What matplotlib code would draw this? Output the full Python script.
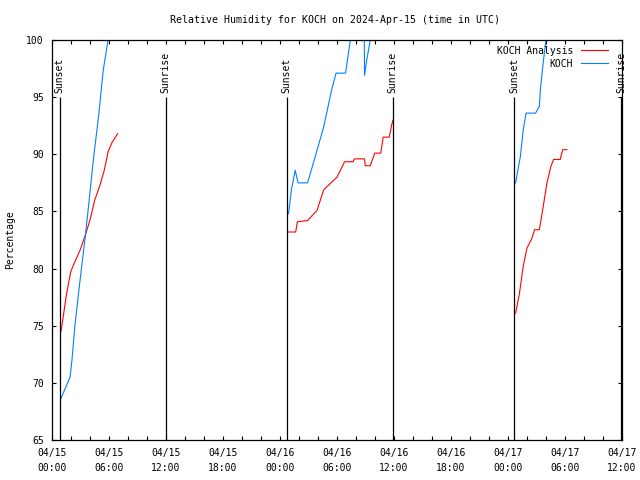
import numpy as np
import pandas as pd
import matplotlib
matplotlib.use("Agg")
import matplotlib.pyplot as plt
import matplotlib.dates as mdates

plt.rcParams['font.family'] = 'DejaVu Sans Mono'
plt.rcParams['font.size'] = 7

# KOCH analysis (red), one list per night
ana_t1 = ["04-15 00:57", "04-15 01:12", "04-15 01:32", "04-15 01:58", "04-15 02:15", "04-15 02:57",
          "04-15 03:30", "04-15 04:00", "04-15 04:30", "04-15 05:03", "04-15 05:30", "04-15 05:54",
          "04-15 06:18", "04-15 06:54"]
ana_v1 = [74.5, 75.9, 77.8, 79.7, 80.3, 81.6, 82.9, 84.25, 86.0, 87.3, 88.6, 90.2, 91.0, 91.8]

ana_t2 = ["04-16 00:54", "04-16 01:39", "04-16 01:50", "04-16 02:54", "04-16 03:54", "04-16 04:36",
          "04-16 06:00", "04-16 06:48", "04-16 07:42", "04-16 07:50", "04-16 08:54", "04-16 08:58",
          "04-16 09:30", "04-16 09:58", "04-16 10:36", "04-16 10:52", "04-16 11:30", "04-16 11:46",
          "04-16 11:54"]
ana_v2 = [83.2, 83.2, 84.1, 84.2, 85.1, 86.9, 88.0, 89.35, 89.35, 89.6, 89.6, 89.0, 89.0, 90.1,
          90.1, 91.5, 91.5, 92.6, 93.0]

ana_t3 = ["04-17 00:48", "04-17 01:12", "04-17 01:36", "04-17 02:00", "04-17 02:30", "04-17 02:48",
          "04-17 03:18", "04-17 03:42", "04-17 04:06", "04-17 04:30", "04-17 04:48", "04-17 05:30",
          "04-17 05:45", "04-17 06:12"]
ana_v3 = [76.1, 77.8, 80.2, 81.8, 82.6, 83.4, 83.4, 85.4, 87.5, 88.9, 89.55, 89.55, 90.4, 90.4]

# KOCH observed (blue)
obs_t1 = ["04-15 00:57", "04-15 01:54", "04-15 02:06", "04-15 02:24", "04-15 02:48", "04-15 03:06",
          "04-15 03:30", "04-15 03:48", "04-15 04:21", "04-15 04:54", "04-15 05:24", "04-15 05:54",
          "04-15 06:54"]
obs_v1 = [68.65, 70.5, 72.0, 74.9, 77.9, 80.0, 82.8, 85.1, 89.5, 93.3, 97.4, 100.0, 104.0]

obs_t2 = ["04-16 00:54", "04-16 01:12", "04-16 01:36", "04-16 01:54", "04-16 02:54", "04-16 03:30",
          "04-16 04:36", "04-16 05:24", "04-16 05:54", "04-16 06:54", "04-16 07:24", "04-16 07:54",
          "04-16 08:24", "04-16 08:52", "04-16 08:54", "04-16 09:06", "04-16 09:30", "04-16 10:30",
          "04-16 11:54"]
obs_v2 = [84.8, 86.9, 88.6, 87.5, 87.5, 89.2, 92.4, 95.5, 97.1, 97.1, 100.0, 102.0, 102.0, 101.5,
          96.9, 98.1, 100.0, 103.0, 104.0]

obs_t3 = ["04-17 00:48", "04-17 01:18", "04-17 01:36", "04-17 01:54", "04-17 02:54", "04-17 03:18",
          "04-17 03:24", "04-17 03:42", "04-17 04:00", "04-17 05:00", "04-17 06:12"]
obs_v3 = [87.5, 89.8, 92.1, 93.6, 93.6, 94.2, 95.6, 98.0, 100.0, 103.0, 105.0]

sun_times = ["04-15 00:49", "04-15 11:58", "04-16 00:42", "04-16 11:52", "04-17 00:41", "04-17 11:54"]
sun_labels = ["Sunset", "Sunrise", "Sunset", "Sunrise", "Sunset", "Sunrise"]


def dt(lst):
    return pd.to_datetime(["2024-" + s for s in lst])


fig = plt.figure(figsize=(6.4, 4.8), dpi=100)
ax = fig.add_axes([52 / 640, 40 / 480, 570 / 640, 400 / 480])

red = '#ff0000'
blue = '#0080ff'
for i, (t, v) in enumerate([(ana_t1, ana_v1), (ana_t2, ana_v2), (ana_t3, ana_v3)]):
    ax.plot(dt(t), v, color=red, lw=0.8, label='KOCH Analysis' if i == 0 else None)
for i, (t, v) in enumerate([(obs_t1, obs_v1), (obs_t2, obs_v2), (obs_t3, obs_v3)]):
    ax.plot(dt(t), v, color=blue, lw=0.8, label='KOCH' if i == 0 else None)

for t, lab in zip(dt(sun_times), sun_labels):
    ax.vlines(t, 65, 95, color='black', lw=0.9)
    ax.text(t, 95.35, lab, rotation=90, ha='center', va='bottom', fontsize=7)

ax.set_xlim(pd.Timestamp("2024-04-15 00:00"), pd.Timestamp("2024-04-17 12:00"))
ax.set_ylim(65, 100)
ax.set_yticks(np.arange(65, 101, 5))
ax.xaxis.set_major_locator(mdates.HourLocator(byhour=range(0, 24, 6)))
ax.xaxis.set_minor_locator(mdates.HourLocator(byhour=range(0, 24, 2)))
ax.xaxis.set_major_formatter(mdates.DateFormatter('%m/%d\n%H:%M'))
ax.tick_params(which='both', direction='in', length=3, width=0.8, top=True, right=True)
ax.tick_params(axis='x', pad=6)
ax.tick_params(axis='y', pad=6)
for lbl in ax.get_xticklabels():
    lbl.set_linespacing(1.6)
for s in ax.spines.values():
    s.set_linewidth(0.9)

ax.set_ylabel('Percentage', labelpad=8)
fig.text(335 / 640, 1 - 20 / 480, 'Relative Humidity for KOCH on 2024-Apr-15 (time in UTC)',
         ha='center', va='center', fontsize=7.1)

ax.legend(loc='upper right', bbox_to_anchor=(1.0 - 7 / 570, 1.0 + 1 / 400), frameon=False,
          markerfirst=False, handlelength=2.8, handletextpad=0.8, labelspacing=0.3,
          borderaxespad=0.3, fontsize=7)

fig.savefig('out.png', dpi=100)
